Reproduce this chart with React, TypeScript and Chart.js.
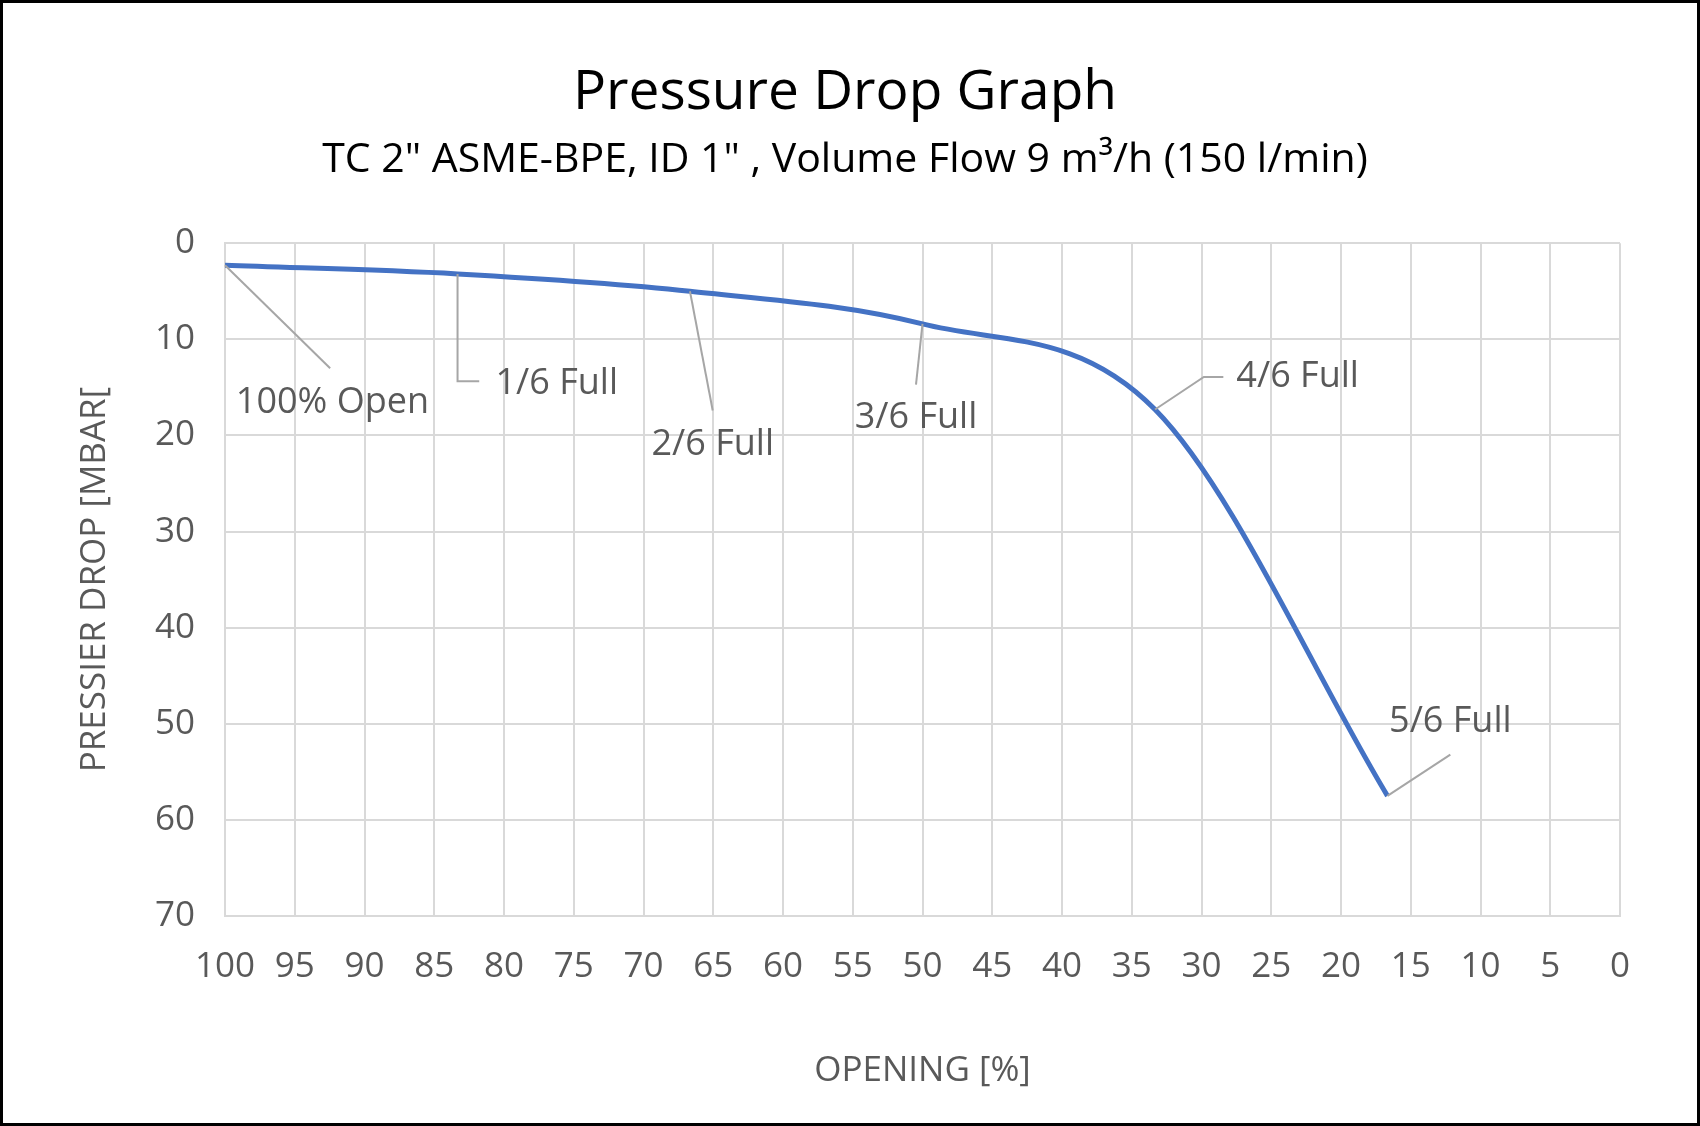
import React, { useEffect, useRef } from "react";
import { Chart, registerables } from "chart.js";
Chart.register(...registerables);

const openings = [100, 83.33, 66.67, 50, 33.33, 16.67];
const drops = [2.3, 3.2, 5.0, 8.4, 17.3, 57.5];
const labels = ["100% Open", "1/6 Full", "2/6 Full", "3/6 Full", "4/6 Full", "5/6 Full"];

const S = 1.084;
const FONT = "'Open Sans', sans-serif";
const GRAY = "#595959";

const annot = {
  id: "annot",
  afterDatasetsDraw(chart: any) {
    const { ctx } = chart;
    const xs = chart.scales.x, ys = chart.scales.y;
    ctx.save();
    ctx.strokeStyle = "#a6a6a6";
    ctx.lineWidth = 2;
    ctx.fillStyle = GRAY;
    ctx.font = `${36}px ${FONT}`;
    ctx.textBaseline = "middle";
    const specs: any[] = [
      { pts: [[97, 95]], t: [10, 127], a: "left" },
      { pts: [[0, 99], [20, 99]], t: [35, 101], a: "left" },
      { pts: [[21, 110]], t: [21, 142], a: "center" },
      { pts: [[-6, 56]], t: [-6, 87], a: "center" },
      { pts: [[45, -30], [63, -30]], t: [75, -30], a: "left" },
      { pts: [[58, -38]], t: [58, -68], a: "center" },
    ];
    openings.forEach((o, i) => {
      const px = xs.getPixelForValue(o), py = ys.getPixelForValue(drops[i]);
      const sp = specs[i];
      ctx.beginPath();
      ctx.moveTo(px, py);
      sp.pts.forEach((p: number[]) => ctx.lineTo(px + p[0] * S, py + p[1] * S));
      ctx.stroke();
      ctx.textAlign = sp.a;
      ctx.fillText(labels[i], px + sp.t[0] * S, py + sp.t[1] * S);
    });
    ctx.strokeStyle = "#000";
    ctx.lineWidth = 3;
    ctx.strokeRect(1.5, 1.5, chart.width - 3, chart.height - 3);
    ctx.restore();
  },
};

export default function App() {
  const ref = useRef<HTMLCanvasElement>(null);
  useEffect(() => {
    document.body.style.margin = "0";
    const chart = new Chart(ref.current!, {
      type: "line",
      data: {
        datasets: [{
          data: openings.map((o, i) => ({ x: o, y: drops[i] })),
          borderColor: "#4472C4",
          borderWidth: 5,
          pointRadius: 0,
          cubicInterpolationMode: "monotone",
          fill: false,
        }],
      },
      options: {
        animation: false,
        responsive: false,
        layout: { padding: { top: 40, left: 70, right: 80, bottom: 30 } },
        plugins: {
          legend: { display: false },
          tooltip: { enabled: false },
          title: { display: true, text: "Pressure Drop Graph", color: "#000", font: { family: FONT, size: 55, weight: "normal" }, padding: { top: 20, bottom: 10 } },
          subtitle: { display: true, text: "TC 2\" ASME-BPE, ID 1\" , Volume Flow 9 m³/h (150 l/min)", color: "#000", font: { family: FONT, size: 41 }, padding: { bottom: 58 } },
        },
        scales: {
          x: {
            type: "linear", reverse: true, min: 0, max: 100,
            ticks: { stepSize: 5, color: GRAY, font: { family: FONT, size: 35 }, padding: 30 },
            grid: { color: "#d9d9d9", lineWidth: 2, drawTicks: false },
            border: { color: "#d9d9d9", width: 2 },
            title: { display: true, text: "OPENING [%]", color: GRAY, font: { family: FONT, size: 35 }, padding: { top: 32 } },
          },
          y: {
            reverse: true, min: 0, max: 70,
            ticks: { stepSize: 10, color: GRAY, font: { family: FONT, size: 35 }, padding: 30 },
            grid: { color: "#d9d9d9", lineWidth: 2, drawTicks: false },
            border: { color: "#d9d9d9", width: 2 },
            title: { display: true, text: "PRESSIER DROP [MBAR[", color: GRAY, font: { family: FONT, size: 35 }, padding: { bottom: 20 } },
            afterFit: (s: any) => { s.width = 155; },
          },
        },
      } as any,
      plugins: [annot],
    });
    return () => chart.destroy();
  }, []);
  return <canvas ref={ref} width={1700} height={1126} style={{ display: "block" }} />;
}
